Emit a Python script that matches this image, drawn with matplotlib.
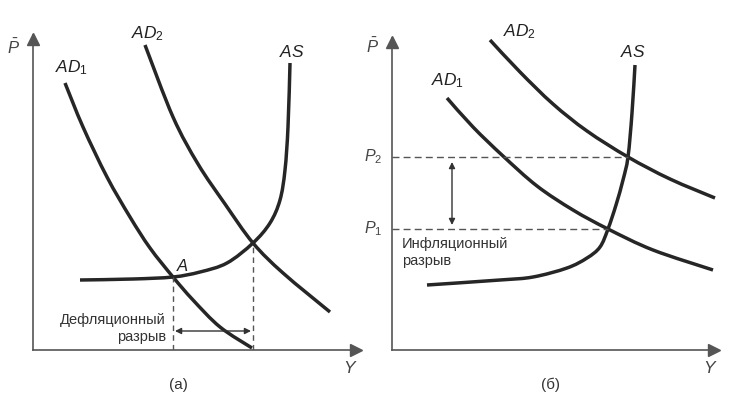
import matplotlib.pyplot as plt
from matplotlib.path import Path
from matplotlib.patches import PathPatch

plt.rcParams['font.family'] = ['Liberation Sans', 'DejaVu Sans']
plt.rcParams['mathtext.fontset'] = 'custom'
plt.rcParams['mathtext.it'] = 'Liberation Sans:italic'
plt.rcParams['mathtext.rm'] = 'Liberation Sans'

# panel (a): points, origin at the axes crossing
ad1_a_x = [32, 50, 74, 97, 117, 140, 160, 187, 219]
ad1_a_y = [267, 223, 173, 133, 102, 73, 50, 23, 2]
ad2_a_x = [112, 140, 165, 192, 220, 250, 297]
ad2_a_y = [305, 233, 186, 146, 107, 77, 38]
as_a_x = [47, 100, 140, 167, 194, 220, 237, 247, 252, 255, 257]
as_a_y = [70, 71, 73, 78, 87, 107, 127, 150, 180, 223, 287]
point_a = (140, 73)
point_e = (220, 107)

# panel (б)
ad1_b_x = [55, 81, 111, 145, 181, 216, 261, 321]
ad1_b_y = [252, 223, 194, 164, 140, 121, 100, 80]
ad2_b_x = [98, 128, 161, 195, 236, 278, 323]
ad2_b_y = [310, 278, 246, 219, 193, 171, 152]
as_b_x = [35, 108, 141, 175, 195, 208, 216, 224, 231, 236, 240, 243]
as_b_y = [65, 70, 73, 82, 92, 103, 121, 145, 170, 193, 237, 285]
p1 = (216, 121)
p2 = (236, 193)

curve_col = '#262626'
axis_col = '#555555'
W, H = 750, 403

fig = plt.figure(figsize=(7.5, 4.03), dpi=100)


def make_axes(ox, oy, xlen, ylen):
    ax = fig.add_axes([ox / W, (H - oy) / H, xlen / W, ylen / H])
    ax.set_xlim(0, xlen)
    ax.set_ylim(0, ylen)
    ax.axis('off')
    ax.plot([0, xlen], [0, 0], color=axis_col, lw=1.2, clip_on=False)
    ax.plot([0, 0], [0, ylen], color=axis_col, lw=1.2, clip_on=False)
    ax.plot(xlen - 4, 0, marker='>', ms=9, color=axis_col, clip_on=False)
    ax.plot(0, ylen - 4, marker='^', ms=9, color=axis_col, clip_on=False)
    return ax


def curve(ax, x, y):
    # smooth bezier path through the read points (catmull-rom handles)
    pts = list(zip(x, y))
    n = len(pts)
    verts = [pts[0]]
    codes = [Path.MOVETO]
    for i in range(n - 1):
        p0 = pts[max(i - 1, 0)]
        pa = pts[i]
        pb = pts[i + 1]
        p3 = pts[min(i + 2, n - 1)]
        c1 = (pa[0] + (pb[0] - p0[0]) / 6, pa[1] + (pb[1] - p0[1]) / 6)
        c2 = (pb[0] - (p3[0] - pa[0]) / 6, pb[1] - (p3[1] - pa[1]) / 6)
        verts += [c1, c2, pb]
        codes += [Path.CURVE4] * 3
    ax.add_patch(PathPatch(Path(verts, codes), fill=False, edgecolor=curve_col,
                           lw=2.5, capstyle='butt', joinstyle='round', clip_on=False))


# ---- panel (a)
ax1 = make_axes(33, 350, 327, 315)
curve(ax1, ad1_a_x, ad1_a_y)
curve(ax1, ad2_a_x, ad2_a_y)
curve(ax1, as_a_x, as_a_y)
ax1.plot([point_a[0]] * 2, [0, point_a[1]], ls=(0, (4, 3)), color=axis_col, lw=1)
ax1.plot([point_e[0]] * 2, [0, point_e[1]], ls=(0, (4, 3)), color=axis_col, lw=1)
ax1.annotate('', xy=(point_e[0] - 2, 19), xytext=(point_a[0] + 2, 19),
             arrowprops=dict(arrowstyle='<|-|>', color='#333333', lw=1,
                             mutation_scale=9, shrinkA=0, shrinkB=0))
ax1.text(133, 30, 'Дефляционный', ha='right', va='center', fontsize=10.5, color='#333333')
ax1.text(133, 13, 'разрыв', ha='right', va='center', fontsize=10.5, color='#333333')
ax1.text(point_a[0] + 3, point_a[1] + 6, '$A$', fontsize=12, color='#222222')
ax1.text(39, 278, '$AD_1$', fontsize=12.5, color='#222222', ha='center')
ax1.text(115, 312, '$AD_2$', fontsize=12.5, color='#222222', ha='center')
ax1.text(259, 293, '$AS$', fontsize=12.5, color='#222222', ha='center')
ax1.text(-20, 303, r'$\bar{P}$', fontsize=12, color='#444444', ha='center', va='center')
ax1.text(317, -18, '$Y$', fontsize=12.5, color='#444444', ha='center', va='center')
ax1.text(145, -35, '(а)', fontsize=11, color='#333333', ha='center', va='center')

# ---- panel (б)
ax2 = make_axes(392, 350, 326, 312)
curve(ax2, ad1_b_x, ad1_b_y)
curve(ax2, ad2_b_x, ad2_b_y)
curve(ax2, as_b_x, as_b_y)
ax2.plot([0, p2[0]], [p2[1]] * 2, ls=(0, (5, 3)), color=axis_col, lw=1)
ax2.plot([0, p1[0]], [p1[1]] * 2, ls=(0, (5, 3)), color=axis_col, lw=1)
ax2.annotate('', xy=(60, p2[1] - 5), xytext=(60, p1[1] + 4),
             arrowprops=dict(arrowstyle='<|-|>', color='#333333', lw=1,
                             mutation_scale=9, shrinkA=0, shrinkB=0))
ax2.text(10, 106, 'Инфляционный', ha='left', va='center', fontsize=10.5, color='#333333')
ax2.text(10, 89, 'разрыв', ha='left', va='center', fontsize=10.5, color='#333333')
ax2.text(56, 265, '$AD_1$', fontsize=12.5, color='#222222', ha='center')
ax2.text(128, 314, '$AD_2$', fontsize=12.5, color='#222222', ha='center')
ax2.text(241, 293, '$AS$', fontsize=12.5, color='#222222', ha='center')
ax2.text(-19, p2[1], '$P_2$', fontsize=11.5, color='#444444', ha='center', va='center')
ax2.text(-19, p1[1], '$P_1$', fontsize=11.5, color='#444444', ha='center', va='center')
ax2.text(-20, 304, r'$\bar{P}$', fontsize=12, color='#444444', ha='center', va='center')
ax2.text(318, -18, '$Y$', fontsize=12.5, color='#444444', ha='center', va='center')
ax2.text(158, -35, '(б)', fontsize=11, color='#333333', ha='center', va='center')

fig.savefig('out.png', dpi=100)
